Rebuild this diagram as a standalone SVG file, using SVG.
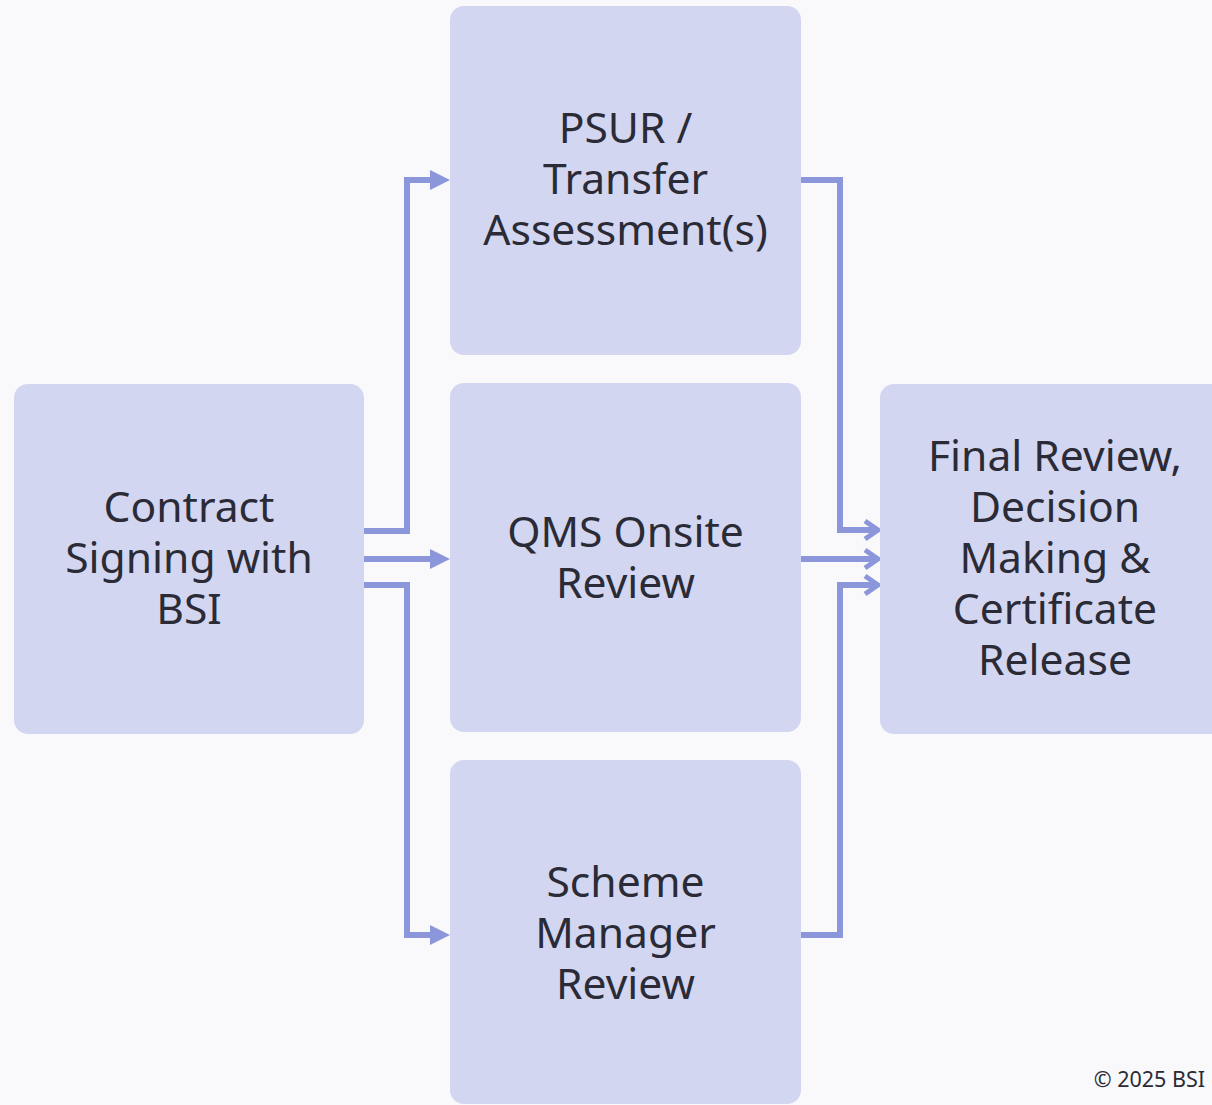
<svg xmlns="http://www.w3.org/2000/svg" width="1212" height="1105" viewBox="0 0 1212 1105">
<style>
.box{fill:#d3d6f0;}
.lbl{font-family:"Noto Sans","Open Sans","Liberation Sans",sans-serif;font-size:42.6px;fill:#2a2b36;text-anchor:middle;}
.edge{fill:none;stroke:#8c97db;stroke-width:6;}
.copy{font-family:"Noto Sans","Open Sans","Liberation Sans",sans-serif;font-size:21.5px;fill:#2a2b36;text-anchor:end;}
</style>
<defs>
<marker id="tri" markerUnits="userSpaceOnUse" viewBox="0 0 20 20" refX="8" refY="10" markerWidth="20" markerHeight="20" orient="auto">
<path d="M0,0 L20,10 L0,20 z" fill="#8c97db"/>
</marker>
<marker id="chev" markerUnits="userSpaceOnUse" viewBox="0 0 20 24" refX="16" refY="12" markerWidth="20" markerHeight="24" orient="auto">
<path d="M3,3 L16,12 L3,21" fill="none" stroke="#8c97db" stroke-width="5"/>
</marker>
</defs>
<rect width="1212" height="1105" fill="#f9f9fb"/>
<g id="connectors">
<path class="edge" d="M364,531 H407 V180 H438" marker-end="url(#tri)"/>
<path class="edge" d="M364,559 H438" marker-end="url(#tri)"/>
<path class="edge" d="M364,585 H407 V935 H438" marker-end="url(#tri)"/>
<path class="edge" d="M801,180 H840 V530 H878" marker-end="url(#chev)"/>
<path class="edge" d="M801,559 H878" marker-end="url(#chev)"/>
<path class="edge" d="M801,935 H840 V585 H878" marker-end="url(#chev)"/>
</g>
<g id="contract">
<rect class="box" x="14" y="384" width="350" height="350" rx="14"/>
<text class="lbl" x="189" y="522">Contract</text>
<text class="lbl" x="189" y="573">Signing with</text>
<text class="lbl" x="189" y="624">BSI</text>
</g>
<g id="psur">
<rect class="box" x="450" y="6" width="351" height="349" rx="14"/>
<text class="lbl" x="625.5" y="143">PSUR /</text>
<text class="lbl" x="625.5" y="194">Transfer</text>
<text class="lbl" x="625.5" y="245">Assessment(s)</text>
</g>
<g id="qms">
<rect class="box" x="450" y="383" width="351" height="349" rx="14"/>
<text class="lbl" x="625.5" y="547">QMS Onsite</text>
<text class="lbl" x="625.5" y="598">Review</text>
</g>
<g id="scheme">
<rect class="box" x="450" y="760" width="351" height="344" rx="14"/>
<text class="lbl" x="625.5" y="897">Scheme</text>
<text class="lbl" x="625.5" y="948">Manager</text>
<text class="lbl" x="625.5" y="999">Review</text>
</g>
<g id="final">
<rect class="box" x="880" y="384" width="350" height="350" rx="14"/>
<text class="lbl" x="1055" y="471">Final Review,</text>
<text class="lbl" x="1055" y="522">Decision</text>
<text class="lbl" x="1055" y="573">Making &amp;</text>
<text class="lbl" x="1055" y="624">Certificate</text>
<text class="lbl" x="1055" y="675">Release</text>
</g>
<text class="copy" x="1205" y="1087">© 2025 BSI</text>
</svg>
